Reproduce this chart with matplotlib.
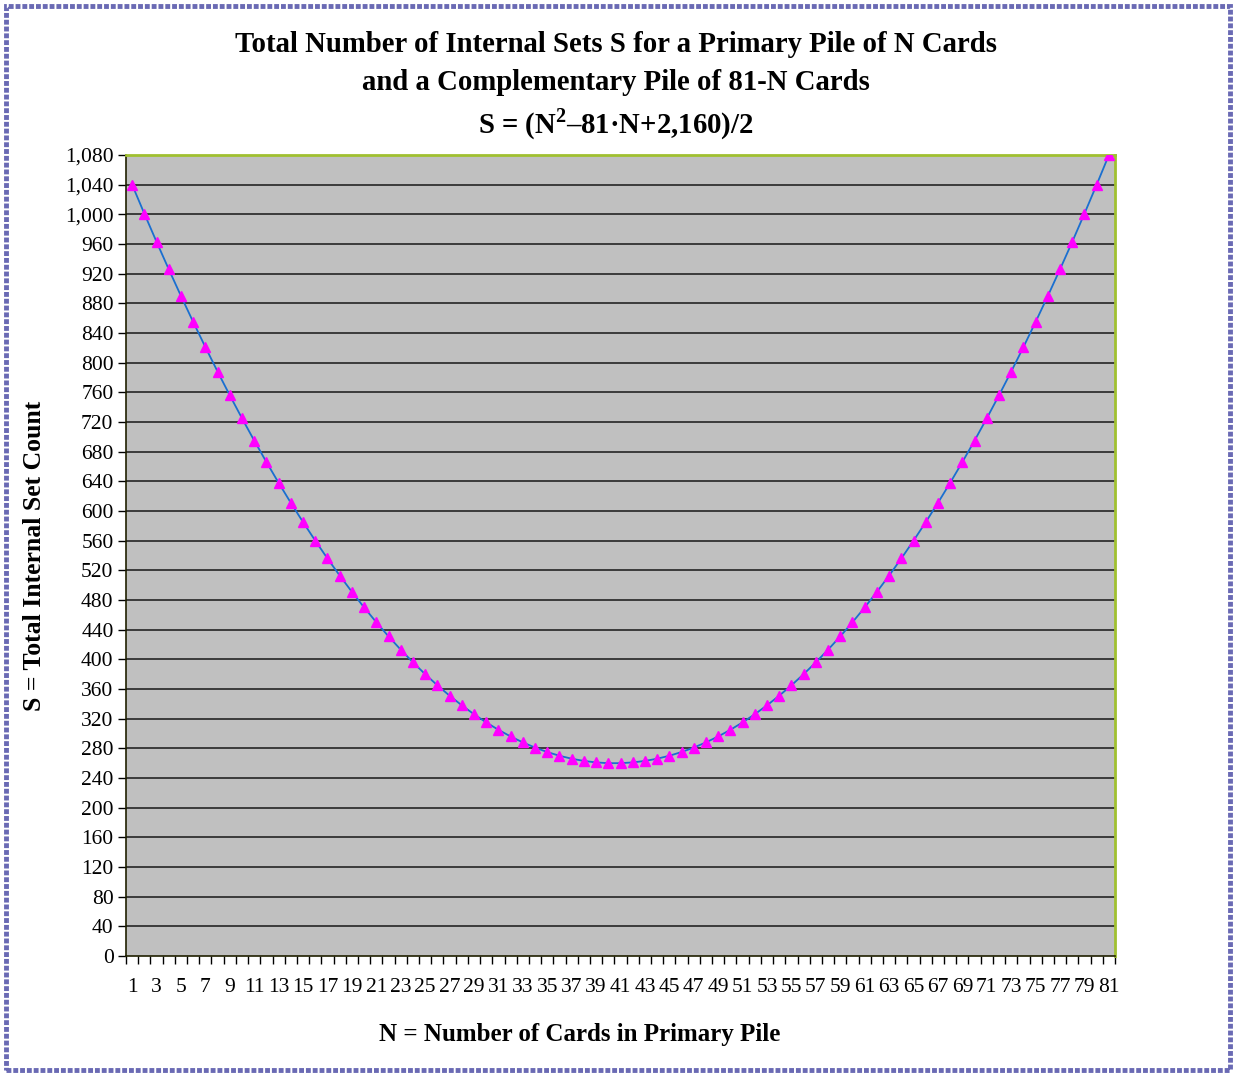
import matplotlib
matplotlib.use("Agg")
import matplotlib.pyplot as plt
from matplotlib.ticker import FixedLocator, FuncFormatter
from matplotlib.patches import Rectangle

# ---- data ----
n_cards = list(range(1, 82))
set_counts = [1040, 1001, 963, 926, 890, 855, 821, 788, 756, 725,
              695, 666, 638, 611, 585, 560, 536, 513, 491, 470,
              450, 431, 413, 396, 380, 365, 351, 338, 326, 315,
              305, 296, 288, 281, 275, 270, 266, 263, 261, 260,
              260, 261, 263, 266, 270, 275, 281, 288, 296, 305,
              315, 326, 338, 351, 365, 380, 396, 413, 431, 450,
              470, 491, 513, 536, 560, 585, 611, 638, 666, 695,
              725, 756, 788, 821, 855, 890, 926, 963, 1001, 1040, 1080]
x_tick_labels = [str(v) for v in range(1, 82, 2)]
y_ticks = list(range(0, 1081, 40))

title_lines = ["Total Number of Internal Sets S for a Primary Pile of N Cards",
               "and a Complementary Pile of 81-N Cards",
               "S = (N$^{\\mathrm{2}}$\u201381\u00b7N+2,160)/2"]
x_label = "N = Number of Cards in Primary Pile"
y_label = "S = Total Internal Set Count"

plt.rcParams['font.family'] = ['Liberation Serif', 'DejaVu Serif']
plt.rcParams['mathtext.fontset'] = 'custom'
plt.rcParams['mathtext.rm'] = 'Liberation Serif:bold'
plt.rcParams['mathtext.bf'] = 'Liberation Serif:bold'

W, H = 1236, 1076
fig = plt.figure(figsize=(W / 100, H / 100), dpi=100)
fig.patch.set_facecolor('white')

# outer border
fig.add_artist(Rectangle((6 / W, 6 / H), (W - 12) / W, (H - 12) / H,
                         transform=fig.transFigure, fill=False,
                         edgecolor='#6a6ab4', linewidth=3.5, linestyle=(0, (1.0, 0.4))))

left, right, top, bottom = 126, 1115, 155, 956
ax = fig.add_axes([left / W, 1 - bottom / H, (right - left) / W, (bottom - top) / H])
ax.set_facecolor('#c0c0c0')

ax.set_xlim(0.5, 81.5)
ax.set_ylim(0, 1080)

for y in y_ticks[1:-1]:
    ax.axhline(y, color='#303030', linewidth=1.3, zorder=1)

ax.plot(n_cards, set_counts, color='#1a6fd0', linewidth=1.3, zorder=2)
ax.plot(n_cards, set_counts, linestyle='none', marker='^', markersize=7.5,
        color='#ff00ff', markeredgecolor='#ff00ff', zorder=3)

ax.yaxis.set_major_locator(FixedLocator(y_ticks))
ax.yaxis.set_major_formatter(FuncFormatter(lambda v, p: f"{int(v):,}"))
ax.xaxis.set_major_locator(FixedLocator(list(range(1, 82, 2))))
ax.set_xticklabels(x_tick_labels)
ax.xaxis.set_minor_locator(FixedLocator([k + 0.5 for k in range(0, 82)]))
ax.tick_params(axis='x', which='major', length=0, pad=16, labelsize=15.5)
ax.tick_params(axis='x', which='minor', length=6, width=1, direction='out', color='black')
ax.tick_params(axis='y', which='major', length=6, width=1, direction='out',
               labelsize=15.5, pad=3, color='black')

for side in ['top', 'right']:
    ax.spines[side].set_color('#a0c030')
    ax.spines[side].set_linewidth(2)
ax.spines['left'].set_color('#202000')
ax.spines['bottom'].set_color('#202000')
ax.spines['left'].set_linewidth(1.2)
ax.spines['bottom'].set_linewidth(1.2)

fig.text(616 / W, 1 - 45 / H, title_lines[0], ha='center', va='center',
         fontsize=20.7, fontweight='bold')
fig.text(616 / W, 1 - 82 / H, title_lines[1], ha='center', va='center',
         fontsize=20.7, fontweight='bold')
fig.text(616 / W, 1 - 124 / H, title_lines[2], ha='center', va='center',
         fontsize=20.7, fontweight='bold')

fig.text(580 / W, 1 - 1035 / H, x_label, ha='center', va='center',
         fontsize=18, fontweight='bold')
fig.text(35 / W, 1 - 556 / H, y_label, ha='center', va='center',
         fontsize=18.5, fontweight='bold', rotation=90)

fig.savefig('out.png', dpi=100, facecolor='white')
